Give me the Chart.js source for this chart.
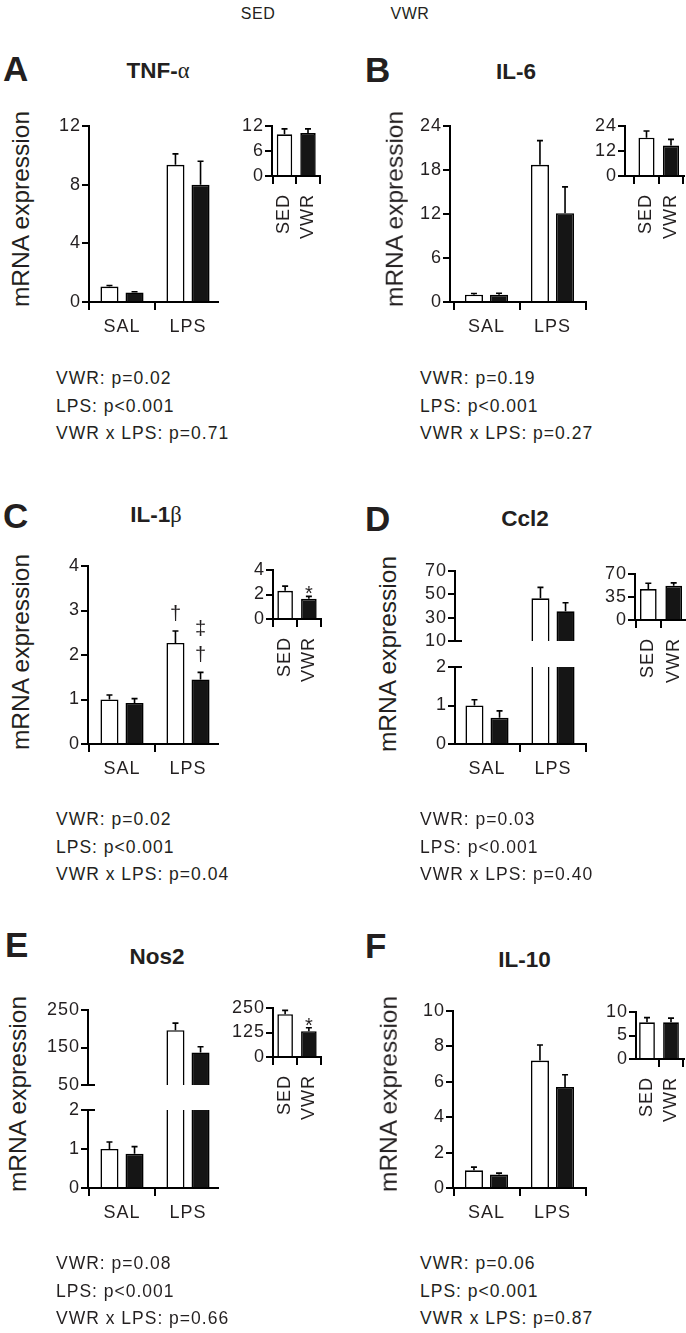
<!DOCTYPE html>
<html><head><meta charset="utf-8">
<script src="https://cdn.jsdelivr.net/npm/chart.js@4.4.1/dist/chart.umd.min.js"></script>
<style>
html,body{margin:0;padding:0;background:#fff;}
body{width:686px;height:1333px;position:relative;overflow:hidden;font-family:'Liberation Sans',Arial,Helvetica,sans-serif;color:#231f20;}
.t{position:absolute;white-space:nowrap;line-height:1;}
canvas{position:absolute;}
</style></head><body>
<script>
// ---------------- DATA ----------------
const groups = ['SAL', 'LPS'];
const insetGroups = ['SED', 'VWR'];
const legendLabels = ['SED', 'VWR'];

// A: TNF-α
const tnfSed = [1.05, 9.35], tnfSedSem = [0.08, 0.75];
const tnfVwr = [0.65, 8.0], tnfVwrSem = [0.05, 1.6];
const tnfInset = [10.0, 10.3], tnfInsetSem = [1.3, 1.0];
const tnfTicks = [0, 4, 8, 12], tnfInsetTicks = [0, 6, 12];
const tnfStats = ['VWR: p=0.02', 'LPS: p<0.001', 'VWR x LPS: p=0.71'];

// B: IL-6
const il6Sed = [1.0, 18.7], il6SedSem = [0.15, 3.3];
const il6Vwr = [1.0, 12.1], il6VwrSem = [0.2, 3.6];
const il6Inset = [18.4, 14.6], il6InsetSem = [3.2, 3.0];
const il6Ticks = [0, 6, 12, 18, 24], il6InsetTicks = [0, 12, 24];
const il6Stats = ['VWR: p=0.19', 'LPS: p<0.001', 'VWR x LPS: p=0.27'];

// C: IL-1β
const il1bSed = [1.0, 2.27], il1bSedSem = [0.1, 0.27];
const il1bVwr = [0.92, 1.45], il1bVwrSem = [0.1, 0.16];
const il1bInset = [2.3, 1.65], il1bInsetSem = [0.38, 0.2];
const il1bSedMarks = ['', '†'], il1bVwrMarks = ['', '‡†'], il1bInsetMarks = ['', '*'];
const il1bTicks = [0, 1, 2, 3, 4], il1bInsetTicks = [0, 2, 4];
const il1bStats = ['VWR: p=0.02', 'LPS: p<0.001', 'VWR x LPS: p=0.04'];

// D: Ccl2 (broken axis)
const ccl2Sed = [1.0, 46.6], ccl2SedSem = [0.15, 9.4];
const ccl2Vwr = [0.68, 35.4], ccl2VwrSem = [0.18, 7.4];
const ccl2Inset = [47, 52], ccl2InsetSem = [9, 4.5];
const ccl2UpperTicks = [10, 30, 50, 70], ccl2LowerTicks = [0, 1, 2], ccl2InsetTicks = [0, 35, 70];
const ccl2Stats = ['VWR: p=0.03', 'LPS: p<0.001', 'VWR x LPS: p=0.40'];

// E: Nos2 (broken axis)
const nos2Sed = [1.0, 196], nos2SedSem = [0.18, 19];
const nos2Vwr = [0.88, 137], nos2VwrSem = [0.18, 15];
const nos2Inset = [218, 132], nos2InsetSem = [20, 17];
const nos2InsetMarks = ['', '*'];
const nos2UpperTicks = [50, 150, 250], nos2LowerTicks = [0, 1, 2], nos2InsetTicks = [0, 125, 250];
const nos2Stats = ['VWR: p=0.08', 'LPS: p<0.001', 'VWR x LPS: p=0.66'];

// F: IL-10
const il10Sed = [1.0, 7.2], il10SedSem = [0.18, 0.88];
const il10Vwr = [0.76, 5.7], il10VwrSem = [0.08, 0.7];
const il10Inset = [7.8, 7.8], il10InsetSem = [1.0, 0.9];
const il10Ticks = [0, 2, 4, 6, 8, 10], il10InsetTicks = [0, 5, 10];
const il10Stats = ['VWR: p=0.06', 'LPS: p<0.001', 'VWR x LPS: p=0.87'];

// ---------------- STYLE ----------------
const FONT = "'Liberation Sans', Arial, Helvetica, sans-serif";
const INK = '#231f20';
const BLACK_FILL = '#151515';
const TICK_SIZE = 18;
const TICK_SPACING = '1px';

// ---------------- PLUGINS ----------------
const spacing = {
  id: 'spacing',
  beforeLayout(chart) { chart.ctx.letterSpacing = TICK_SPACING; },
  beforeDraw(chart) { chart.ctx.letterSpacing = TICK_SPACING; }
};

const errorBars = {
  id: 'errorBars',
  afterDatasetsDraw(chart) {
    const ctx = chart.ctx, ca = chart.chartArea, ys = chart.scales.y;
    ctx.save();
    ctx.beginPath();
    ctx.rect(ca.left - 3, ca.top, ca.right - ca.left + 6, ca.bottom - ca.top);
    ctx.clip();
    ctx.strokeStyle = '#000';
    ctx.lineWidth = 1.6;
    chart.data.datasets.forEach((ds, di) => {
      const meta = chart.getDatasetMeta(di);
      (ds.errors || []).forEach((e, i) => {
        const el = meta.data[i];
        if (!el) return;
        const top = ys.getPixelForValue(ds.data[i].y + e);
        const cap = ds.capHalf || 3;
        ctx.beginPath();
        ctx.moveTo(el.x, el.y);
        ctx.lineTo(el.x, top);
        ctx.moveTo(el.x - cap, top);
        ctx.lineTo(el.x + cap, top);
        ctx.stroke();
      });
    });
    ctx.restore();
  }
};

const sigMarks = {
  id: 'sigMarks',
  afterDatasetsDraw(chart) {
    const ctx = chart.ctx, ys = chart.scales.y;
    ctx.save();
    ctx.letterSpacing = '0px';
    ctx.fillStyle = INK;
    ctx.font = '20px ' + FONT;
    ctx.textAlign = 'center';
    ctx.textBaseline = 'alphabetic';
    chart.data.datasets.forEach((ds, di) => {
      if (!ds.marks) return;
      const meta = chart.getDatasetMeta(di);
      ds.marks.forEach((m, i) => {
        if (!m) return;
        const el = meta.data[i];
        const top = ys.getPixelForValue(ds.data[i].y + (ds.errors ? ds.errors[i] : 0));
        const chars = [...m].reverse();
        let bottom = top - (chars[0] === '*' ? 2 : 10);
        chars.forEach(c => {
          const mt = ctx.measureText(c);
          const base = bottom - mt.actualBoundingBoxDescent;
          ctx.fillText(c, el.x, base);
          bottom = base - mt.actualBoundingBoxAscent - 10;
        });
      });
    });
    ctx.restore();
  }
};

const breakMark = {
  id: 'breakMark',
  afterDraw(chart, args, opts) {
    if (!opts || !opts.at) return;
    const ys = chart.scales.y, ca = chart.chartArea, ctx = chart.ctx;
    const py = ys.getPixelForValue(opts.at === 'min' ? ys.min : ys.max);
    ctx.save();
    ctx.strokeStyle = '#000';
    ctx.lineWidth = 2;
    ctx.beginPath();
    ctx.moveTo(ca.left, py);
    ctx.lineTo(ca.left + 7, py);
    ctx.stroke();
    ctx.restore();
  }
};

// ---------------- HELPERS ----------------
function text(str, x, y, css, mode) {
  const d = document.createElement('div');
  d.className = 't';
  d.innerHTML = str;
  d.style.cssText += css;
  d.style.left = x + 'px';
  d.style.top = y + 'px';
  d.style.transform = mode === 'left' ? 'translateY(-50%)' :
    mode === 'rot' ? 'translate(-50%,-50%) rotate(-90deg)' : 'translate(-50%,-50%)';
  document.body.appendChild(d);
}

function makeChart(box, opt) {
  const YW = opt.yw, PT = 14, PR = 4;
  const hasX = opt.showX !== false;
  const XH = hasX ? opt.xh : 0;
  const PB = hasX ? 0 : 14;
  const W = Math.round(YW + (box.r - box.l) + PR);
  const H = Math.round(PT + (box.b - box.t) + XH + PB);
  const cv = document.createElement('canvas');
  cv.width = W; cv.height = H;
  cv.style.left = (box.l - YW) + 'px';
  cv.style.top = (box.t - PT) + 'px';
  document.body.appendChild(cv);
  const unit = box.c1 - box.c0;
  const xMin = -(box.c0 - box.l) / unit;
  const xMax = xMin + (box.r - box.l) / unit;
  const labels = opt.xLabels;
  new Chart(cv, {
    type: 'bar',
    data: { datasets: opt.datasets },
    options: {
      responsive: false, animation: false, devicePixelRatio: 1,
      layout: { padding: { top: PT, right: PR, left: 0, bottom: PB } },
      plugins: { legend: { display: false }, tooltip: { enabled: false }, breakMark: { at: opt.breakAt || null } },
      scales: {
        x: {
          type: 'linear', min: xMin, max: xMax, display: hasX, offset: false,
          grid: { display: true, drawOnChartArea: false, drawTicks: true, tickLength: opt.xTick, color: '#000', lineWidth: 2 },
          border: { display: true, color: '#000', width: 2 },
          ticks: {
            color: INK, font: { family: FONT, size: TICK_SIZE }, padding: opt.xPad, autoSkip: false,
            minRotation: opt.rot, maxRotation: opt.rot,
            callback: (v, i) => labels[i]
          },
          afterBuildTicks: s => { s.ticks = labels.map((_, i) => ({ value: i })); },
          afterFit: s => { s.height = XH; s.paddingLeft = 0; s.paddingRight = 0; }
        },
        y: {
          type: 'linear', min: opt.min, max: opt.max,
          grid: { display: true, drawOnChartArea: false, drawTicks: true, tickLength: 7, color: '#000', lineWidth: 2 },
          border: { display: true, color: '#000', width: 2 },
          ticks: { color: INK, font: { family: FONT, size: TICK_SIZE }, padding: 1, autoSkip: false },
          afterBuildTicks: s => { s.ticks = opt.ticks.map(v => ({ value: v })); },
          afterFit: s => { s.width = YW; s.paddingTop = 0; s.paddingBottom = 0; }
        }
      }
    },
    plugins: [spacing, errorBars, sigMarks, breakMark]
  });
}

function pts(vals) { return vals.map((v, i) => ({ x: i, y: v })); }

function mainSets(sed, sedSem, vwr, vwrSem, sedMarks, vwrMarks) {
  return [
    { data: pts(sed), errors: sedSem, marks: sedMarks, backgroundColor: '#fff', borderColor: '#000', borderWidth: 1.6,
      categoryPercentage: 0.76, barPercentage: 0.72, clip: 0, capHalf: 3 },
    { data: pts(vwr), errors: vwrSem, marks: vwrMarks, backgroundColor: BLACK_FILL, borderColor: '#000', borderWidth: 1.6,
      categoryPercentage: 0.76, barPercentage: 0.72, clip: 0, capHalf: 3 }
  ];
}
function insetSets(vals, sem, marks) {
  return [{ data: pts(vals), errors: sem, marks: marks, backgroundColor: ['#fff', BLACK_FILL], borderColor: '#000', borderWidth: 1.6,
    categoryPercentage: 0.9, barPercentage: 0.73, clip: 0, capHalf: 3 }];
}

function mainOpt(extra) {
  return Object.assign({ yw: 54, xh: 46, xTick: 8, xPad: 6, rot: 0, xLabels: groups }, extra);
}
function insetOpt(extra) {
  return Object.assign({ yw: 50, xh: 74, xTick: 8, xPad: 10, rot: 90, xLabels: insetGroups }, extra);
}

// ---------------- PANELS ----------------
const SERIF = 'font-family:\'Liberation Serif\',serif;font-weight:normal';
const panels = [
  { letter: 'A', lp: [3, 69], title: 'TNF-<span style="' + SERIF + '">α</span>', tp: [158, 71],
    yl: [21, 209], stats: tnfStats, sp: [56, 379],
    charts: [[{ l: 89, r: 218, t: 126, b: 302, c0: 122, c1: 188 }, mainOpt({ min: 0, max: 12, ticks: tnfTicks, datasets: mainSets(tnfSed, tnfSedSem, tnfVwr, tnfVwrSem) })],
             [{ l: 272, r: 320, t: 126, b: 176, c0: 284.5, c1: 308 }, insetOpt({ min: 0, max: 12, ticks: tnfInsetTicks, datasets: insetSets(tnfInset, tnfInsetSem) })]] },
  { letter: 'B', lp: [365, 69.5], title: 'IL-6', tp: [516, 71.5],
    yl: [395, 209], stats: il6Stats, sp: [420, 379],
    charts: [[{ l: 450, r: 586, t: 126, b: 302, c0: 486.5, c1: 552.5 }, mainOpt({ min: 0, max: 24, ticks: il6Ticks, datasets: mainSets(il6Sed, il6SedSem, il6Vwr, il6VwrSem) })],
             [{ l: 625, r: 684, t: 126, b: 176, c0: 646.5, c1: 671 }, insetOpt({ min: 0, max: 24, ticks: il6InsetTicks, datasets: insetSets(il6Inset, il6InsetSem) })]] },
  { letter: 'C', lp: [3, 515.5], title: 'IL-1<span style="' + SERIF + '">β</span>', tp: [156, 515],
    yl: [21, 652], stats: il1bStats, sp: [56, 820],
    charts: [[{ l: 88, r: 218, t: 566, b: 744, c0: 122, c1: 188 }, mainOpt({ min: 0, max: 4, ticks: il1bTicks, datasets: mainSets(il1bSed, il1bSedSem, il1bVwr, il1bVwrSem, il1bSedMarks, il1bVwrMarks) })],
             [{ l: 272.5, r: 320, t: 570, b: 618.5, c0: 284.5, c1: 308 }, insetOpt({ min: 0, max: 4, ticks: il1bInsetTicks, datasets: insetSets(il1bInset, il1bInsetSem, il1bInsetMarks) })]] },
  { letter: 'D', lp: [365, 518.5], title: 'Ccl2', tp: [525, 518.5],
    yl: [388, 654], stats: ccl2Stats, sp: [420, 820],
    charts: [[{ l: 455, r: 586, t: 571, b: 641, c0: 487, c1: 553 }, mainOpt({ min: 10, max: 70, ticks: ccl2UpperTicks, showX: false, breakAt: 'min', datasets: mainSets(ccl2Sed, ccl2SedSem, ccl2Vwr, ccl2VwrSem) })],
             [{ l: 455, r: 586, t: 667, b: 744, c0: 487, c1: 553 }, mainOpt({ min: 0, max: 2, ticks: ccl2LowerTicks, breakAt: 'max', datasets: mainSets(ccl2Sed, ccl2SedSem, ccl2Vwr, ccl2VwrSem) })],
             [{ l: 634.5, r: 684, t: 573.5, b: 619.5, c0: 647.7, c1: 672.8 }, insetOpt({ min: 0, max: 70, ticks: ccl2InsetTicks, datasets: insetSets(ccl2Inset, ccl2InsetSem) })]] },
  { letter: 'E', lp: [5, 944.5], title: 'Nos2', tp: [157, 957],
    yl: [18, 1094], stats: nos2Stats, sp: [56, 1264],
    charts: [[{ l: 88, r: 218, t: 1010, b: 1084.5, c0: 122, c1: 188 }, mainOpt({ min: 50, max: 250, ticks: nos2UpperTicks, showX: false, breakAt: 'min', datasets: mainSets(nos2Sed, nos2SedSem, nos2Vwr, nos2VwrSem) })],
             [{ l: 88, r: 218, t: 1109.5, b: 1187.5, c0: 122, c1: 188 }, mainOpt({ min: 0, max: 2, ticks: nos2LowerTicks, breakAt: 'max', datasets: mainSets(nos2Sed, nos2SedSem, nos2Vwr, nos2VwrSem) })],
             [{ l: 272.5, r: 320, t: 1007.5, b: 1056, c0: 284.5, c1: 308 }, insetOpt({ min: 0, max: 250, ticks: nos2InsetTicks, datasets: insetSets(nos2Inset, nos2InsetSem, nos2InsetMarks) })]] },
  { letter: 'F', lp: [365, 946], title: 'IL-10', tp: [524.5, 959.5],
    yl: [389, 1094], stats: il10Stats, sp: [420, 1264],
    charts: [[{ l: 453, r: 586, t: 1011, b: 1187.5, c0: 486.5, c1: 552.5 }, mainOpt({ min: 0, max: 10, ticks: il10Ticks, datasets: mainSets(il10Sed, il10SedSem, il10Vwr, il10VwrSem) })],
             [{ l: 636, r: 684, t: 1012, b: 1058.5, c0: 647, c1: 671 }, insetOpt({ min: 0, max: 10, ticks: il10InsetTicks, datasets: insetSets(il10Inset, il10InsetSem) })]] }
];

// legend texts at top
text(legendLabels[0], 258, 14, 'font-size:16px;letter-spacing:0.5px;', 'center');
text(legendLabels[1], 410, 14, 'font-size:16px;letter-spacing:0.5px;', 'center');

panels.forEach(p => {
  p.charts.forEach(([box, opt]) => makeChart(box, opt));
  text(p.letter, p.lp[0], p.lp[1], "font:bold 35px 'Liberation Sans',Arial,sans-serif;", 'left');
  text(p.title, p.tp[0], p.tp[1], "font:bold 22.5px 'Liberation Sans',Arial,sans-serif;", 'center');
  text('mRNA expression', p.yl[0], p.yl[1], 'font-size:24.5px;', 'rot');
  p.stats.forEach((s, i) => text(s, p.sp[0], p.sp[1] + i * 27.5, 'font-size:17.5px;letter-spacing:1px;', 'left'));
});
</script>
</body></html>
